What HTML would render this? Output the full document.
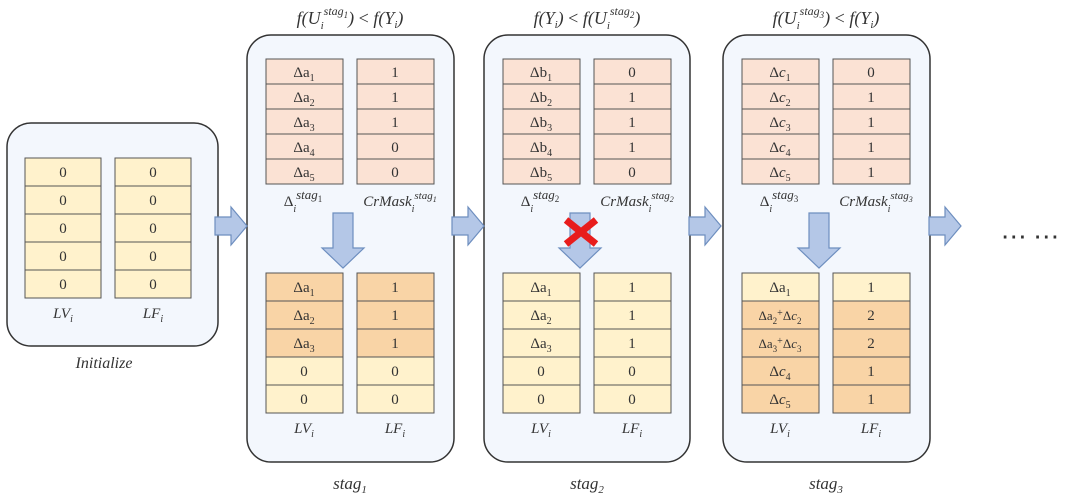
<!DOCTYPE html>
<html><head><style>body{margin:0;background:#fff}svg{display:block}text{font-family:"Liberation Serif",serif;fill:#333}</style></head><body>
<svg width="1078" height="498" viewBox="0 0 1078 498" xmlns="http://www.w3.org/2000/svg">
<defs>
<g id="ra"><path d="M0,-9 H16 V-19 L32,0 L16,19 V9 H0 Z" fill="#b4c7e7" stroke="#6d8ebf" stroke-width="1.2"/></g>
<g id="da"><path d="M-10,0 H10 V35 H21 L0,55 L-21,35 H-10 Z" fill="#b4c7e7" stroke="#6d8ebf" stroke-width="1.2"/></g>
</defs>
<!-- boxes -->
<rect x="7" y="123" width="211" height="223" rx="24" fill="#f3f7fd" stroke="#333" stroke-width="1.5"/>
<rect x="247" y="35" width="207" height="427" rx="24" fill="#f3f7fd" stroke="#333" stroke-width="1.5"/>
<rect x="484" y="35" width="206" height="427" rx="24" fill="#f3f7fd" stroke="#333" stroke-width="1.5"/>
<rect x="723" y="35" width="207" height="427" rx="24" fill="#f3f7fd" stroke="#333" stroke-width="1.5"/>
<!-- right arrows -->
<use href="#ra" x="215" y="226"/><use href="#ra" x="452" y="226"/><use href="#ra" x="689" y="226"/><use href="#ra" x="929" y="226"/>
<use href="#da" x="343" y="213"/><use href="#da" x="580" y="213"/><use href="#da" x="819" y="213"/>
<g stroke="#e81c1c" stroke-width="7"><line x1="566" y1="220" x2="596" y2="244"/><line x1="596" y1="220" x2="566" y2="244"/></g>
<g stroke="#555" stroke-width="1" font-size="15" text-anchor="middle">
<!-- initialize -->
<g fill="#fff2cc">
<rect x="25" y="158" width="76" height="28"/><rect x="25" y="186" width="76" height="28"/><rect x="25" y="214" width="76" height="28"/><rect x="25" y="242" width="76" height="28"/><rect x="25" y="270" width="76" height="28"/>
<rect x="115" y="158" width="76" height="28"/><rect x="115" y="186" width="76" height="28"/><rect x="115" y="214" width="76" height="28"/><rect x="115" y="242" width="76" height="28"/><rect x="115" y="270" width="76" height="28"/>
</g>
<!-- top pink cells -->
<g fill="#fbe2d4">
<rect x="266" y="59" width="77" height="25"/><rect x="266" y="84" width="77" height="25"/><rect x="266" y="109" width="77" height="25"/><rect x="266" y="134" width="77" height="25"/><rect x="266" y="159" width="77" height="25"/>
<rect x="357" y="59" width="77" height="25"/><rect x="357" y="84" width="77" height="25"/><rect x="357" y="109" width="77" height="25"/><rect x="357" y="134" width="77" height="25"/><rect x="357" y="159" width="77" height="25"/>
<rect x="503" y="59" width="77" height="25"/><rect x="503" y="84" width="77" height="25"/><rect x="503" y="109" width="77" height="25"/><rect x="503" y="134" width="77" height="25"/><rect x="503" y="159" width="77" height="25"/>
<rect x="594" y="59" width="77" height="25"/><rect x="594" y="84" width="77" height="25"/><rect x="594" y="109" width="77" height="25"/><rect x="594" y="134" width="77" height="25"/><rect x="594" y="159" width="77" height="25"/>
<rect x="742" y="59" width="77" height="25"/><rect x="742" y="84" width="77" height="25"/><rect x="742" y="109" width="77" height="25"/><rect x="742" y="134" width="77" height="25"/><rect x="742" y="159" width="77" height="25"/>
<rect x="833" y="59" width="77" height="25"/><rect x="833" y="84" width="77" height="25"/><rect x="833" y="109" width="77" height="25"/><rect x="833" y="134" width="77" height="25"/><rect x="833" y="159" width="77" height="25"/>
</g>
<!-- bottom -->
<g fill="#f9d4a6">
<rect x="266" y="273" width="77" height="28"/><rect x="266" y="301" width="77" height="28"/><rect x="266" y="329" width="77" height="28"/>
<rect x="357" y="273" width="77" height="28"/><rect x="357" y="301" width="77" height="28"/><rect x="357" y="329" width="77" height="28"/>
<rect x="742" y="301" width="77" height="28"/><rect x="742" y="329" width="77" height="28"/><rect x="742" y="357" width="77" height="28"/><rect x="742" y="385" width="77" height="28"/>
<rect x="833" y="301" width="77" height="28"/><rect x="833" y="329" width="77" height="28"/><rect x="833" y="357" width="77" height="28"/><rect x="833" y="385" width="77" height="28"/>
</g>
<g fill="#fff2cc">
<rect x="266" y="357" width="77" height="28"/><rect x="266" y="385" width="77" height="28"/>
<rect x="357" y="357" width="77" height="28"/><rect x="357" y="385" width="77" height="28"/>
<rect x="503" y="273" width="77" height="28"/><rect x="503" y="301" width="77" height="28"/><rect x="503" y="329" width="77" height="28"/><rect x="503" y="357" width="77" height="28"/><rect x="503" y="385" width="77" height="28"/>
<rect x="594" y="273" width="77" height="28"/><rect x="594" y="301" width="77" height="28"/><rect x="594" y="329" width="77" height="28"/><rect x="594" y="357" width="77" height="28"/><rect x="594" y="385" width="77" height="28"/>
<rect x="742" y="273" width="77" height="28"/><rect x="833" y="273" width="77" height="28"/>
</g>
</g>
<g font-size="15" text-anchor="middle">
<!-- init text -->
<text x="63" y="177">0</text><text x="63" y="205">0</text><text x="63" y="233">0</text><text x="63" y="261">0</text><text x="63" y="289">0</text>
<text x="153" y="177">0</text><text x="153" y="205">0</text><text x="153" y="233">0</text><text x="153" y="261">0</text><text x="153" y="289">0</text>
<!-- stage1 top -->
<text x="304" y="77">Δa<tspan font-size="10" dy="4">1</tspan></text><text x="304" y="102">Δa<tspan font-size="10" dy="4">2</tspan></text><text x="304" y="127">Δa<tspan font-size="10" dy="4">3</tspan></text><text x="304" y="152">Δa<tspan font-size="10" dy="4">4</tspan></text><text x="304" y="177">Δa<tspan font-size="10" dy="4">5</tspan></text>
<text x="395" y="77">1</text><text x="395" y="102">1</text><text x="395" y="127">1</text><text x="395" y="152">0</text><text x="395" y="177">0</text>
<!-- stage2 top -->
<text x="541" y="77">Δb<tspan font-size="10" dy="4">1</tspan></text><text x="541" y="102">Δb<tspan font-size="10" dy="4">2</tspan></text><text x="541" y="127">Δb<tspan font-size="10" dy="4">3</tspan></text><text x="541" y="152">Δb<tspan font-size="10" dy="4">4</tspan></text><text x="541" y="177">Δb<tspan font-size="10" dy="4">5</tspan></text>
<text x="632" y="77">0</text><text x="632" y="102">1</text><text x="632" y="127">1</text><text x="632" y="152">1</text><text x="632" y="177">0</text>
<!-- stage3 top -->
<text x="780" y="77">Δ<tspan font-style="italic">c</tspan><tspan font-size="10" dy="4">1</tspan></text><text x="780" y="102">Δ<tspan font-style="italic">c</tspan><tspan font-size="10" dy="4">2</tspan></text><text x="780" y="127">Δ<tspan font-style="italic">c</tspan><tspan font-size="10" dy="4">3</tspan></text><text x="780" y="152">Δ<tspan font-style="italic">c</tspan><tspan font-size="10" dy="4">4</tspan></text><text x="780" y="177">Δ<tspan font-style="italic">c</tspan><tspan font-size="10" dy="4">5</tspan></text>
<text x="871" y="77">0</text><text x="871" y="102">1</text><text x="871" y="127">1</text><text x="871" y="152">1</text><text x="871" y="177">1</text>
<!-- stage1 bottom -->
<text x="304" y="292">Δa<tspan font-size="10" dy="4">1</tspan></text><text x="304" y="320">Δa<tspan font-size="10" dy="4">2</tspan></text><text x="304" y="348">Δa<tspan font-size="10" dy="4">3</tspan></text><text x="304" y="376">0</text><text x="304" y="404">0</text>
<text x="395" y="292">1</text><text x="395" y="320">1</text><text x="395" y="348">1</text><text x="395" y="376">0</text><text x="395" y="404">0</text>
<!-- stage2 bottom -->
<text x="541" y="292">Δa<tspan font-size="10" dy="4">1</tspan></text><text x="541" y="320">Δa<tspan font-size="10" dy="4">2</tspan></text><text x="541" y="348">Δa<tspan font-size="10" dy="4">3</tspan></text><text x="541" y="376">0</text><text x="541" y="404">0</text>
<text x="632" y="292">1</text><text x="632" y="320">1</text><text x="632" y="348">1</text><text x="632" y="376">0</text><text x="632" y="404">0</text>
<!-- stage3 bottom -->
<text x="780" y="292">Δa<tspan font-size="10" dy="4">1</tspan></text>
<text x="780" y="320" font-size="13">Δa<tspan font-size="9" dy="4">2</tspan><tspan dy="-8" font-size="10">+</tspan><tspan dy="4">Δ</tspan><tspan font-style="italic">c</tspan><tspan font-size="9" dy="4">2</tspan></text>
<text x="780" y="348" font-size="13">Δa<tspan font-size="9" dy="4">3</tspan><tspan dy="-8" font-size="10">+</tspan><tspan dy="4">Δ</tspan><tspan font-style="italic">c</tspan><tspan font-size="9" dy="4">3</tspan></text>
<text x="780" y="376">Δ<tspan font-style="italic">c</tspan><tspan font-size="10" dy="4">4</tspan></text><text x="780" y="404">Δ<tspan font-style="italic">c</tspan><tspan font-size="10" dy="4">5</tspan></text>
<text x="871" y="292">1</text><text x="871" y="320">2</text><text x="871" y="348">2</text><text x="871" y="376">1</text><text x="871" y="404">1</text>
</g>
<g font-style="italic" font-size="15" text-anchor="middle">
<text x="63" y="318">LV<tspan font-size="10" dy="4">i</tspan></text><text x="153" y="318">LF<tspan font-size="10" dy="4">i</tspan></text>
<text x="104" y="368" font-size="16">Initialize</text>
<text x="304" y="433">LV<tspan font-size="10" dy="4">i</tspan></text><text x="395" y="433">LF<tspan font-size="10" dy="4">i</tspan></text>
<text x="541" y="433">LV<tspan font-size="10" dy="4">i</tspan></text><text x="632" y="433">LF<tspan font-size="10" dy="4">i</tspan></text>
<text x="780" y="433">LV<tspan font-size="10" dy="4">i</tspan></text><text x="871" y="433">LF<tspan font-size="10" dy="4">i</tspan></text>
<text x="350" y="489" font-size="17">stag<tspan font-size="11" dy="4">1</tspan></text>
<text x="587" y="489" font-size="17">stag<tspan font-size="11" dy="4">2</tspan></text>
<text x="826" y="489" font-size="17">stag<tspan font-size="11" dy="4">3</tspan></text>
<text x="303" y="206" font-style="normal">Δ<tspan font-style="italic" font-size="10" dy="6">i</tspan><tspan font-style="italic" font-size="13" dy="-13">stag</tspan><tspan font-size="9" dy="3">1</tspan></text>
<text x="400" y="206">CrMask<tspan font-size="10" dy="6">i</tspan><tspan font-size="11" dy="-13">stag</tspan><tspan font-size="8" dy="3">1</tspan></text>
<text x="540" y="206" font-style="normal">Δ<tspan font-style="italic" font-size="10" dy="6">i</tspan><tspan font-style="italic" font-size="13" dy="-13">stag</tspan><tspan font-size="9" dy="3">2</tspan></text>
<text x="637" y="206">CrMask<tspan font-size="10" dy="6">i</tspan><tspan font-size="11" dy="-13">stag</tspan><tspan font-size="8" dy="3">2</tspan></text>
<text x="779" y="206" font-style="normal">Δ<tspan font-style="italic" font-size="10" dy="6">i</tspan><tspan font-style="italic" font-size="13" dy="-13">stag</tspan><tspan font-size="9" dy="3">3</tspan></text>
<text x="876" y="206">CrMask<tspan font-size="10" dy="6">i</tspan><tspan font-size="11" dy="-13">stag</tspan><tspan font-size="8" dy="3">3</tspan></text>
<text x="350" y="24" font-size="18">f(U<tspan font-size="11" dy="5">i</tspan><tspan font-size="12" dy="-14">stag</tspan><tspan font-size="9" dy="3">1</tspan><tspan dy="6" font-size="18">) <tspan font-style="normal">&lt;</tspan> f(Y</tspan><tspan font-size="11" dy="4">i</tspan><tspan dy="-4" font-size="18">)</tspan></text>
<text x="587" y="24" font-size="18">f(Y<tspan font-size="11" dy="4">i</tspan><tspan dy="-4">) <tspan font-style="normal">&lt;</tspan> f(U</tspan><tspan font-size="11" dy="5">i</tspan><tspan font-size="12" dy="-14">stag</tspan><tspan font-size="9" dy="3">2</tspan><tspan dy="6" font-size="18">)</tspan></text>
<text x="826" y="24" font-size="18">f(U<tspan font-size="11" dy="5">i</tspan><tspan font-size="12" dy="-14">stag</tspan><tspan font-size="9" dy="3">3</tspan><tspan dy="6" font-size="18">) <tspan font-style="normal">&lt;</tspan> f(Y</tspan><tspan font-size="11" dy="4">i</tspan><tspan dy="-4" font-size="18">)</tspan></text>
</g>
<text x="1030" y="245" font-size="26" text-anchor="middle" fill="#222">⋯ ⋯</text>
</svg>
</body></html>
